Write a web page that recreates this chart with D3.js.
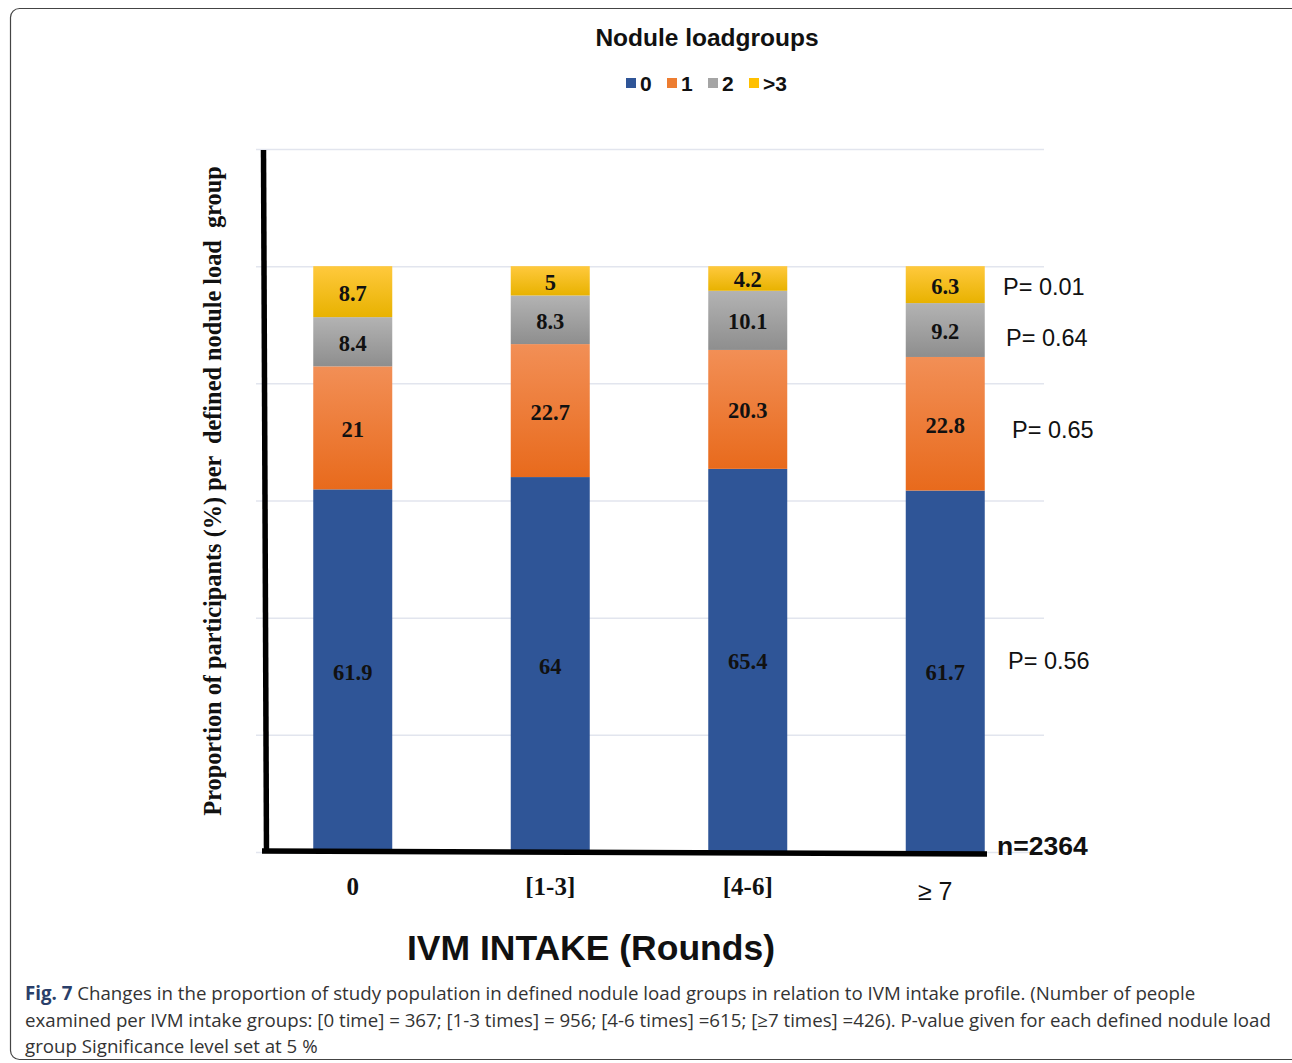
<!DOCTYPE html>
<html>
<head>
<meta charset="utf-8">
<script src="https://cdn.jsdelivr.net/npm/d3@7"></script>
<style>
  body { margin: 0; background: #fff; }
</style>
</head>
<body>
<script>
// data
var categories = ["0", "[1-3]", "[4-6]", "\u2265 7"];
var groups = ["0", "1", "2", ">3"];
var g0 = [61.9, 64, 65.4, 61.7];
var g1 = [21, 22.7, 20.3, 22.8];
var g2 = [8.4, 8.3, 10.1, 9.2];
var g3 = [8.7, 5, 4.2, 6.3];
var pValues = ["P= 0.56", "P= 0.65", "P= 0.64", "P= 0.01"];
var yTicks = [0, 20, 40, 60, 80, 100, 120];

var W = 1292, H = 1063;
var svg = d3.select("body").append("svg")
  .attr("width", W).attr("height", H);

var defs = svg.append("defs");
var grads = [
  { id: "gBlue", top: "#2f5597", bot: "#2f5597" },
  { id: "gOrange", top: "#f28f56", bot: "#e86a1c" },
  { id: "gGray", top: "#b3b3b3", bot: "#8e8e8e" },
  { id: "gYellow", top: "#ffc93d", bot: "#e8b200" }
];
grads.forEach(function (g) {
  var lg = defs.append("linearGradient").attr("id", g.id)
    .attr("x1", 0).attr("y1", 0).attr("x2", 0).attr("y2", 1);
  lg.append("stop").attr("offset", "0%").attr("stop-color", g.top);
  lg.append("stop").attr("offset", "100%").attr("stop-color", g.bot);
});
var legendColors = ["#2f5597", "#ed7d31", "#a5a5a5", "#ffc000"];

// frame
svg.append("rect")
  .attr("x", 10.5).attr("y", 8.5)
  .attr("width", 1290).attr("height", 1051)
  .attr("rx", 9)
  .style("fill", "none").style("stroke", "#444").style("stroke-width", 1.2);

// scales
var x = d3.scaleBand().domain(categories).range([254, 1044]).paddingInner(0.6).paddingOuter(0.3);
var y = d3.scaleLinear().domain([0, 120]).range([852, 149]);

// gridlines
svg.append("g").selectAll("line").data(yTicks).enter().append("line")
  .attr("x1", 256).attr("x2", 1044)
  .attr("y1", function (d) { return y(d) + 0.5; })
  .attr("y2", function (d) { return y(d) + 0.5; })
  .style("stroke", "#e2e5ee").style("stroke-width", 1.5);

// stacked data
var table = categories.map(function (c, i) {
  return { cat: c, "0": g0[i], "1": g1[i], "2": g2[i], ">3": g3[i] };
});
var stack = d3.stack().keys(groups)(table);
var fills = ["url(#gBlue)", "url(#gOrange)", "url(#gGray)", "url(#gYellow)"];

var layers = svg.append("g").selectAll("g").data(stack).enter().append("g")
  .style("fill", function (d, i) { return fills[i]; });

layers.selectAll("rect").data(function (d) { return d; }).enter().append("rect")
  .attr("x", function (d) { return x(d.data.cat); })
  .attr("width", x.bandwidth())
  .attr("y", function (d) { return y(d[1]); })
  .attr("height", function (d) { return y(d[0]) - y(d[1]); });

// value labels
layers.selectAll("text").data(function (d) { return d; }).enter().append("text")
  .attr("x", function (d) { return x(d.data.cat) + x.bandwidth() / 2; })
  .attr("y", function (d) { return (y(d[0]) + y(d[1])) / 2 + 9; })
  .attr("text-anchor", "middle")
  .style("font-family", "'Liberation Serif', 'Times New Roman', serif")
  .style("font-weight", "bold").style("font-size", "22.5px")
  .style("fill", "#111")
  .text(function (d) { return d[1] - d[0] === 0 ? "" : +(d[1] - d[0]).toFixed(1); });

// axes (thick hand-drawn style lines)
svg.append("line")
  .attr("x1", 263.5).attr("y1", 150).attr("x2", 266.5).attr("y2", 853)
  .style("stroke", "#000").style("stroke-width", 5.5);
svg.append("line")
  .attr("x1", 262).attr("y1", 851).attr("x2", 987).attr("y2", 854)
  .style("stroke", "#000").style("stroke-width", 5.5);

// category labels
var catDx = [0, 0, 0, -10];
svg.append("g").selectAll("text").data(categories).enter().append("text")
  .attr("x", function (d, i) { return x(d) + x.bandwidth() / 2 + catDx[i]; })
  .attr("y", function (d, i) { return i === 3 ? 900 : 895; })
  .attr("text-anchor", "middle")
  .style("font-family", function (d, i) {
    return i === 3 ? "'Liberation Sans', Arial, sans-serif" : "'Liberation Serif', 'Times New Roman', serif";
  })
  .style("font-weight", function (d, i) { return i === 3 ? "normal" : "bold"; })
  .style("font-size", "25px")
  .style("fill", "#111")
  .text(function (d) { return d; });

// p values beside last bar
var pX = [1008, 1012, 1006, 1003];
var pDy = [-2, 14, 16, 10];
var lastStack = stack.map(function (s) { return s[3]; });
svg.append("g").selectAll("text").data(pValues).enter().append("text")
  .attr("x", function (d, i) { return pX[i]; })
  .attr("y", function (d, i) {
    return (y(lastStack[i][0]) + y(lastStack[i][1])) / 2 + pDy[i];
  })
  .style("font-family", "'Liberation Sans', Arial, sans-serif")
  .style("font-size", "23.5px").style("fill", "#111")
  .text(function (d) { return d; });

svg.append("text")
  .attr("x", 997).attr("y", 855)
  .style("font-family", "'Liberation Sans', Arial, sans-serif")
  .style("font-weight", "bold").style("font-size", "26.5px").style("fill", "#111")
  .text("n=2364");

// axis titles
svg.append("text")
  .attr("x", 591).attr("y", 960)
  .attr("text-anchor", "middle")
  .style("font-family", "'Liberation Sans', Arial, sans-serif")
  .style("font-weight", "bold").style("font-size", "35.5px").style("fill", "#111")
  .text("IVM INTAKE (Rounds)");

svg.append("text")
  .attr("transform", "translate(221,491) rotate(-90)")
  .attr("text-anchor", "middle")
  .style("font-family", "'Liberation Serif', 'Times New Roman', serif")
  .style("font-weight", "bold").style("font-size", "24.3px").style("fill", "#111")
  .style("white-space", "pre")
  .text("Proportion of participants (%) per  defined nodule load  group");

// title + legend
svg.append("text")
  .attr("x", 707).attr("y", 46)
  .attr("text-anchor", "middle")
  .style("font-family", "'Liberation Sans', Arial, sans-serif")
  .style("font-weight", "bold").style("font-size", "24.5px").style("fill", "#111")
  .text("Nodule loadgroups");

var legendX = [626, 667, 708, 749];
var leg = svg.append("g").selectAll("g").data(groups).enter().append("g")
  .attr("transform", function (d, i) { return "translate(" + legendX[i] + ",78)"; });
leg.append("rect").attr("width", 10).attr("height", 10)
  .style("fill", function (d, i) { return legendColors[i]; });
leg.append("text").attr("x", 14).attr("y", 13)
  .style("font-family", "'Liberation Sans', Arial, sans-serif")
  .style("font-weight", "bold").style("font-size", "21px").style("fill", "#111")
  .text(function (d) { return d; });

// caption
var captionLines = [
  [["Fig. 7", true], [" Changes in the proportion of study population in defined nodule load groups in relation to IVM intake profile. (Number of people", false]],
  [["examined per IVM intake groups: [0 time] = 367; [1-3 times] = 956; [4-6 times] =615; [\u22657 times] =426). P-value given for each defined nodule load", false]],
  [["group Significance level set at 5 %", false]]
];
var cap = svg.append("g");
captionLines.forEach(function (line, i) {
  var t = cap.append("text")
    .attr("x", 25).attr("y", 1000 + i * 26.5)
    .style("font-family", "'Open Sans', 'Noto Sans', sans-serif")
    .style("font-size", "18.7px").style("fill", "#333");
  line.forEach(function (part) {
    t.append("tspan")
      .style("font-weight", part[1] ? "bold" : "normal")
      .style("fill", part[1] ? "#2a3f6a" : "#333")
      .text(part[0]);
  });
});

console.info("OK JS Loaded");
</script>
</body>
</html>
